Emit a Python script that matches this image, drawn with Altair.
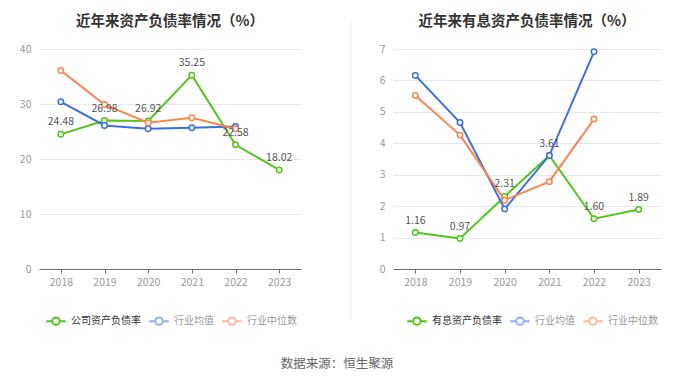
import altair as alt
import pandas as pd

years = ["2018", "2019", "2020", "2021", "2022", "2023"]

left_series = ["公司资产负债率", "行业均值", "行业中位数"]
left_company = [24.48, 26.98, 26.92, 35.25, 22.58, 18.02]
left_avg = [30.4, 26.1, 25.5, 25.7, 25.9]
left_median = [36.1, 29.9, 26.6, 27.5, 25.5]

right_series = ["有息资产负债率", "行业均值", "行业中位数"]
right_company = [1.16, 0.97, 2.31, 3.61, 1.60, 1.89]
right_avg = [6.16, 4.66, 1.91, 3.61, 6.91]
right_median = [5.52, 4.26, 2.19, 2.78, 4.77]

colors = ["#52c41a", "#3a70e3", "#fb8450"]
FONT = "Noto Sans CJK SC"

SYMBOL = ("M-1,0L-0.38,0M0.38,0L1,0M0.38,0A0.38,0.38,0,1,1,-0.38,0"
          "A0.38,0.38,0,1,1,0.38,0")


def make_df(names, company, avg, median):
    rows = []
    for name, vals in zip(names, [company, avg, median]):
        for y, v in zip(years, vals):
            rows.append({"year": y, "value": v, "series": name,
                         "label": f"{v:.2f}"})
    return pd.DataFrame(rows)


def panel(title, names, company, avg, median, ymax, ystep, width, lx):
    df = make_df(names, company, avg, median)
    x = alt.X("year:N", sort=years, title=None,
              scale=alt.Scale(type="point", padding=0.5),
              axis=alt.Axis(labelAngle=0, labelColor="#999", labelFontSize=10.5,
                            domainColor="#6e7079", tickColor="#6e7079",
                            tickSize=4, labelPadding=4, grid=False,
                            labelFont=FONT))
    y = alt.Y("value:Q", title=None,
              scale=alt.Scale(domain=[0, ymax], nice=False),
              axis=alt.Axis(values=list(range(0, ymax + 1, ystep)),
                            labelColor="#999", labelFontSize=10.5, domain=False,
                            ticks=False, gridColor="#e6e9f2", labelPadding=8,
                            minExtent=26, labelFont=FONT))
    color = alt.Color(
        "series:N",
        scale=alt.Scale(domain=names, range=colors),
        legend=alt.Legend(
            title=None, orient="none", direction="horizontal",
            legendX=lx, legendY=261, padding=0,
            symbolType=SYMBOL, symbolSize=380, symbolStrokeWidth=2,
            symbolOpacity=alt.ExprRef(
                expr=f"datum.value == '{names[0]}' ? 1 : 0.55"),
            labelColor=alt.ExprRef(
                expr=f"datum.value == '{names[0]}' ? '#333' : '#999'"),
            labelFontSize=10, labelFont=FONT, columnPadding=4,
            symbolOffset=0, labelOffset=4),
    )
    layers = []
    for name in names:
        sub = alt.Chart(df).transform_filter(alt.datum.series == name)
        layers.append(sub.mark_line(strokeWidth=2).encode(x=x, y=y, color=color))
        layers.append(sub.mark_point(shape="circle", size=30, filled=True,
                                     fill="white", strokeWidth=1.5,
                                     opacity=1).encode(
            x=x, y=y, stroke=alt.Stroke("series:N",
                                        scale=alt.Scale(domain=names, range=colors),
                                        legend=None)))
    layers.append(
        alt.Chart(df).transform_filter(alt.datum.series == names[0])
        .mark_text(dy=-12, fontSize=10.5, color="#555", font=FONT)
        .encode(x=x, y=y, text="label:N"))
    return alt.layer(*layers).properties(
        width=width, height=220,
        title=alt.TitleParams(title, fontSize=14.5, fontWeight="bold",
                              color="#333", font=FONT, anchor="middle",
                              offset=15),
    )


left = panel("近年来资产负债率情况（%）", left_series, left_company, left_avg,
             left_median, 40, 10, 262, 6)
right = panel("近年来有息资产负债率情况（%）", right_series, right_company,
              right_avg, right_median, 7, 1, 268, 13)

sep = alt.Chart(pd.DataFrame({"a": [0]})).mark_rule(
    color="#f0f0f0", strokeWidth=1).encode(
    x=alt.value(50), y=alt.value(-29), y2=alt.value(271)).properties(
    width=66, height=220)

chart = alt.hconcat(left, sep, right, spacing=0).resolve_scale(
    color="independent", stroke="independent").resolve_legend(
    color="independent").properties(
    title=alt.TitleParams("数据来源：恒生聚源", orient="bottom", fontSize=12.5,
                          fontWeight="normal", color="#666", font=FONT,
                          anchor="middle", offset=29),
    padding={"top": 5, "left": 5, "right": 5, "bottom": 5},
).configure_view(stroke=None)

chart.save("out.html", embed_options={"renderer": "svg", "actions": False})
